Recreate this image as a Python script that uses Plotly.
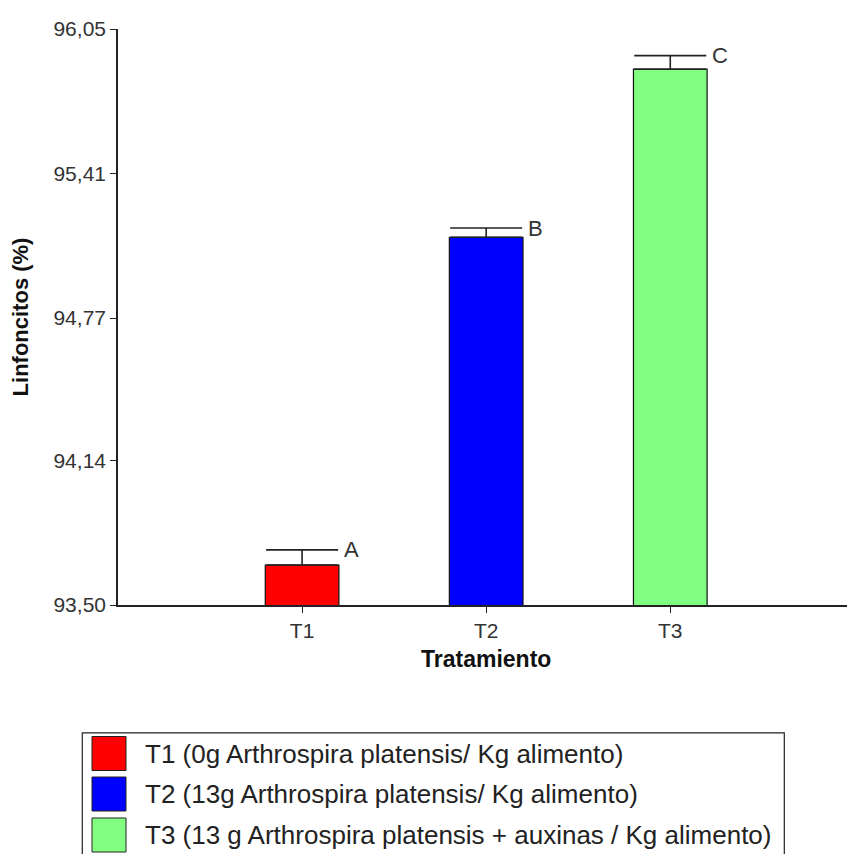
import plotly.graph_objects as go

# Treatments, means and standard errors of lymphocyte percentage
categories = ["T1", "T2", "T3"]
means = [93.677, 95.128, 95.872]
errors = [0.067, 0.041, 0.060]
letters = ["A", "B", "C"]
colors = ["#ff0000", "#0000ff", "#80ff80"]
legend_labels = [
    "T1 (0g Arthrospira platensis/ Kg alimento)",
    "T2 (13g Arthrospira platensis/ Kg alimento)",
    "T3 (13 g Arthrospira platensis + auxinas / Kg alimento)",
]
y_ticks = [93.50, 94.14, 94.77, 95.41, 96.05]
y_tick_text = ["93,50", "94,14", "94,77", "95,41", "96,05"]

FONT = "Arial, Liberation Sans, sans-serif"
xpos = list(range(1, len(categories) + 1))
bar_width = 0.4

fig = go.Figure()
fig.add_trace(go.Bar(
    x=xpos,
    y=means,
    width=bar_width,
    marker=dict(color=colors, line=dict(color="#111111", width=1.2)),
    error_y=dict(type="data", array=errors, arrayminus=[0] * len(errors),
                 symmetric=False, color="#222222", thickness=1.6, width=36),
    showlegend=False,
    hoverinfo="skip",
))

# significance letters beside each error-bar cap
for x, m, e, t in zip(xpos, means, errors, letters):
    fig.add_annotation(x=x + bar_width / 2, y=m + e, text=t, showarrow=False,
                       xanchor="left", yanchor="middle", xshift=3,
                       font=dict(family=FONT, size=22, color="#333333"))

# x-axis title, centred under the middle treatment
fig.add_annotation(x=xpos[len(xpos) // 2], xref="x", yref="paper",
                   y=(605 - 659) / 576, text="<b>Tratamiento</b>",
                   showarrow=False, xanchor="center", yanchor="middle",
                   font=dict(family=FONT, size=23, color="#111111"))

# legend box with large colour swatches
shapes = [dict(type="rect", xref="paper", yref="paper",
               x0=-0.049, x1=0.914, y0=-0.222, y1=-0.45,
               line=dict(color="#222222", width=1.2), fillcolor="rgba(0,0,0,0)")]
row_top = [736.5, 777, 818]
for i, (c, lab) in enumerate(zip(colors, legend_labels)):
    top = (605 - row_top[i]) / 576
    bot = (605 - (row_top[i] + 34)) / 576
    shapes.append(dict(type="rect", xref="paper", yref="paper",
                       x0=(92 - 118) / 729, x1=(126 - 118) / 729, y0=bot, y1=top,
                       fillcolor=c, line=dict(color="#222222", width=1)))
    fig.add_annotation(xref="paper", yref="paper",
                       x=(143 - 118) / 729, y=(top + bot) / 2, text=lab,
                       showarrow=False, xanchor="left", yanchor="middle",
                       font=dict(family=FONT, size=26, color="#222222"))

fig.update_layout(
    width=847, height=854,
    margin=dict(l=118, r=0, t=29, b=249),
    paper_bgcolor="white", plot_bgcolor="white",
    font=dict(family=FONT, size=21, color="#333333"),
    shapes=shapes,
    xaxis=dict(range=[0, 3.96], tickvals=xpos, ticktext=categories,
               showline=True, linecolor="#222222", linewidth=1.6,
               ticks="outside", ticklen=6, tickcolor="#222222",
               showgrid=False, zeroline=False,
               tickfont=dict(family=FONT, size=21, color="#333333")),
    yaxis=dict(range=[93.50, 96.05], tickvals=y_ticks, ticktext=y_tick_text,
               showline=True, linecolor="#222222", linewidth=1.6,
               ticks="outside", ticklen=6, tickcolor="#222222",
               showgrid=False, zeroline=False,
               tickfont=dict(family=FONT, size=21, color="#333333"),
               title=dict(text="<b>Linfoncitos (%)</b>", standoff=19,
                          font=dict(family=FONT, size=22, color="#111111"))),
)

fig.write_html("out.html")
